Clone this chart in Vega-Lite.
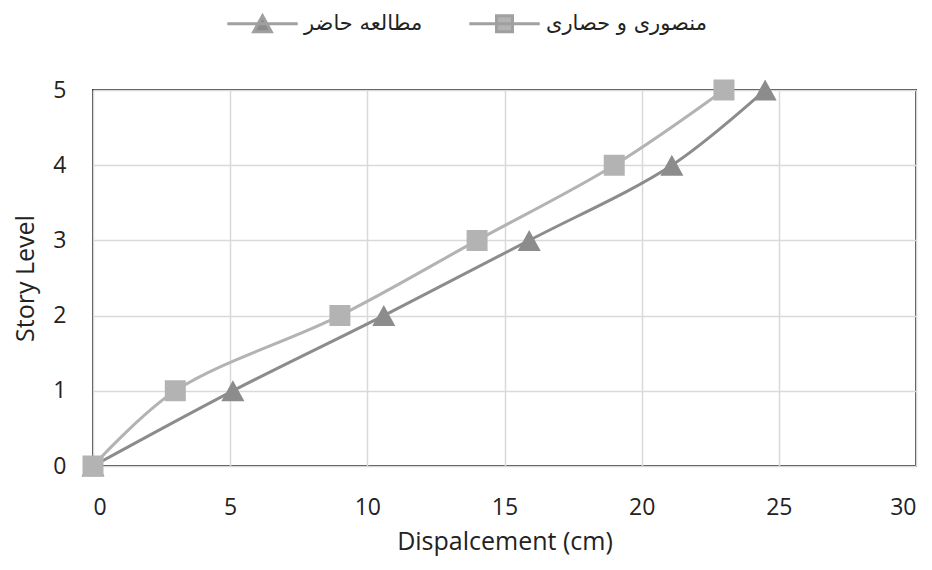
{
  "$schema": "https://vega.github.io/schema/vega-lite/v6.json",
  "width": 823,
  "height": 376,
  "autosize": {"type": "none"},
  "padding": {"left": 93, "top": 90, "right": 16, "bottom": 104},
  "background": "white",
  "config": {
    "view": {"stroke": "#404040", "strokeWidth": 2},
    "font": "Open Sans",
    "axis": {
      "domain": false,
      "ticks": false,
      "grid": true,
      "gridColor": "#d9d9d9",
      "gridWidth": 1.5,
      "labelFont": "Open Sans",
      "labelFontSize": 23,
      "labelColor": "#222222",
      "titleFont": "Open Sans",
      "titleFontSize": 25,
      "titleFontWeight": "normal",
      "titleColor": "#222222"
    }
  },
  "data": {
    "values": [
      {"series": "مطالعه حاضر", "d": 0, "s": 0},
      {"series": "مطالعه حاضر", "d": 5.1, "s": 1},
      {"series": "مطالعه حاضر", "d": 10.6, "s": 2},
      {"series": "مطالعه حاضر", "d": 15.9, "s": 3},
      {"series": "مطالعه حاضر", "d": 21.1, "s": 4},
      {"series": "مطالعه حاضر", "d": 24.5, "s": 5},
      {"series": "منصوری و حصاری", "d": 0, "s": 0},
      {"series": "منصوری و حصاری", "d": 3, "s": 1},
      {"series": "منصوری و حصاری", "d": 9, "s": 2},
      {"series": "منصوری و حصاری", "d": 14, "s": 3},
      {"series": "منصوری و حصاری", "d": 19, "s": 4},
      {"series": "منصوری و حصاری", "d": 23, "s": 5}
    ]
  },
  "encoding": {
    "x": {
      "field": "d", "type": "quantitative",
      "scale": {"domain": [0, 30], "nice": false, "zero": false},
      "axis": {"values": [0, 5, 10, 15, 20, 25, 30], "labelPadding": 30, "title": "Dispalcement (cm)", "titlePadding": 10}
    },
    "y": {
      "field": "s", "type": "quantitative",
      "scale": {"domain": [0, 5], "nice": false, "zero": false},
      "axis": {"values": [0, 1, 2, 3, 4, 5], "labelPadding": 27, "title": "Story Level", "titlePadding": 14}
    }
  },
  "layer": [
    {
      "mark": {"type": "line", "interpolate": "catmull-rom", "strokeWidth": 3},
      "encoding": {
        "stroke": {
          "field": "series", "type": "nominal",
          "scale": {"domain": ["منصوری و حصاری", "مطالعه حاضر"], "range": ["#b3b3b3", "#8c8c8c"]},
          "legend": null
        },
        "order": {"field": "s", "type": "quantitative"}
      }
    },
    {
      "mark": {"type": "point", "filled": true, "opacity": 1, "size": 441},
      "encoding": {
        "color": {
          "field": "series", "type": "nominal",
          "scale": {"domain": ["مطالعه حاضر", "منصوری و حصاری"], "range": ["#8c8c8c", "#b3b3b3"]},
          "legend": {
            "title": null,
            "orient": "none",
            "direction": "horizontal",
            "legendX": 159,
            "legendY": -77,
            "padding": 0,
            "labelFont": "DejaVu Sans",
            "labelFontSize": 21,
            "labelColor": "#222222",
            "labelLimit": 400,
            "labelOffset": 31,
            "columnPadding": 40,
            "symbolSize": 256,
            "symbolStrokeColor": "#a0a0a0",
            "symbolStrokeWidth": 3,
            "encode": {
              "symbols": {
                "stroke": {"value": {"expr": "scale('color', datum.value)"}},
                "strokeWidth": {"value": 3},
                "size": {"value": 256}
              }
            }
          }
        },
        "shape": {
          "field": "series", "type": "nominal",
          "scale": {
            "domain": ["مطالعه حاضر", "منصوری و حصاری"],
            "range": ["M0,-1L1.1,1L-1.1,1Z M-4.4,0H4.4", "M-1,-1H1V1H-1Z M-4.4,0H4.4"]
          }
        }
      }
    }
  ]
}
